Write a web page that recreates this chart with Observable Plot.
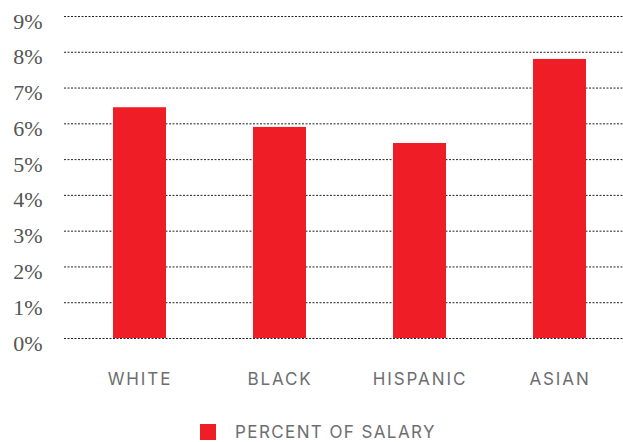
<!DOCTYPE html>
<html>
<head>
<meta charset="utf-8">
<script src="https://cdn.jsdelivr.net/npm/d3@7"></script>
<script src="https://cdn.jsdelivr.net/npm/@observablehq/plot@0.6"></script>
<style>
  body { margin: 0; background: #fff; }
  #chart svg { display: block; }
  #chart g[aria-label="x-axis tick label"] text { font-family: Inter, sans-serif; letter-spacing: 1.9px; }
  #chart g.ylab text { font-family: "Liberation Serif", "DejaVu Serif", serif !important; }
  .legend { display: flex; align-items: center; height: 16px; line-height: 16px; margin-left: 200px; margin-top: 19px; font-family: Inter, "Open Sans", sans-serif; font-size: 17px; color: #6d6e71; letter-spacing: 1.4px; }
  .legend .sw { width: 16px; height: 16px; background: #ee1d26; margin-right: 19px; flex: none; }
</style>
</head>
<body>
<div id="chart"></div>
<div class="legend"><span class="sw"></span><span>PERCENT OF SALARY</span></div>
<script>
const categories = ["WHITE", "BLACK", "HISPANIC", "ASIAN"];
const values = [6.45, 5.9, 5.45, 7.8];
const yTicks = [0, 1, 2, 3, 4, 5, 6, 7, 8, 9];
const seriesName = "PERCENT OF SALARY";

const data = categories.map((c, i) => ({category: c, value: values[i]}));
const serif = "Liberation Serif";

const chart = Plot.plot({
  width: 623,
  height: 405,
  marginTop: 16,
  marginBottom: 67,
  marginLeft: 64,
  marginRight: 0,
  style: {fontFamily: "Liberation Serif, serif"},
  x: {domain: categories, range: [70, 630], paddingInner: 0.62, paddingOuter: 0.31, label: null},
  y: {domain: [0, 9], ticks: yTicks, label: null, axis: null},
  marks: [
    Plot.ruleY(yTicks, {stroke: "#222", strokeWidth: 1, strokeDasharray: "2,1.5"}),
    Plot.barY(data, {x: "category", y: "value", fill: "#ee1d26"}),
    Plot.text(yTicks, {y: d => d, frameAnchor: "left", textAnchor: "end", dx: -22, dy: 5,
      text: d => d + "%", fontFamily: serif, fontSize: 22, fill: "#555", className: "ylab"}),
    Plot.axisX({tickSize: 0, tickPadding: 34, fontSize: 17, fill: "#6d6e71"})
  ]
});
document.getElementById("chart").appendChild(chart);
</script>
</body>
</html>
